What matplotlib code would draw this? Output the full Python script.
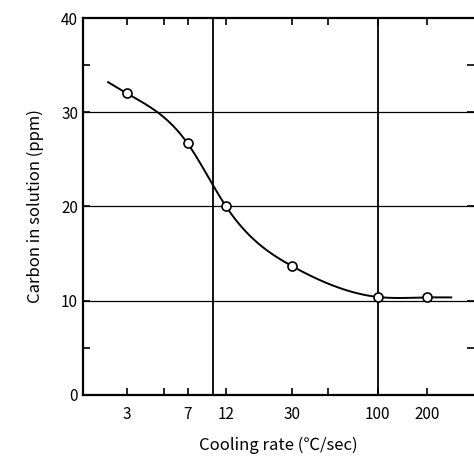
import numpy as np
import matplotlib
matplotlib.use("Agg")
import matplotlib.pyplot as plt

plt.rcParams['font.family'] = ['Noto Sans CJK JP', 'DejaVu Sans']

# measured points
rate = [3, 7, 12, 30, 100, 200]
carbon = [32.0, 26.7, 20.0, 13.7, 10.4, 10.4]

# hand-drawn curve guide
curve_x = [2.3, 3, 7, 12, 30, 100, 200, 280]
curve_y = [33.2, 32.0, 26.7, 20.0, 13.7, 10.4, 10.35, 10.35]

tick_vals = [3, 7, 12, 30, 100, 200]
tick_labels = ['3', '7', '12', '30', '100', '200']
minor_vals = [3, 5, 7, 12, 30, 50, 100, 200]


def spline(xs, ys, n=60):
    # natural cubic spline in log-x space
    x = np.log10(xs)
    y = np.array(ys, dtype=float)
    N = len(x)
    h = np.diff(x)
    A = np.zeros((N, N))
    b = np.zeros(N)
    A[0, 0] = A[-1, -1] = 1
    for i in range(1, N - 1):
        A[i, i - 1] = h[i - 1]
        A[i, i] = 2 * (h[i - 1] + h[i])
        A[i, i + 1] = h[i]
        b[i] = 6 * ((y[i + 1] - y[i]) / h[i] - (y[i] - y[i - 1]) / h[i - 1])
    M = np.linalg.solve(A, b)
    ox, oy = [], []
    for i in range(N - 1):
        t = np.linspace(x[i], x[i + 1], n)
        a = x[i + 1] - t
        c = t - x[i]
        s = (M[i] * a**3 + M[i + 1] * c**3) / (6 * h[i]) \
            + (y[i] / h[i] - M[i] * h[i] / 6) * a + (y[i + 1] / h[i] - M[i + 1] * h[i] / 6) * c
        ox.extend(t)
        oy.extend(s)
    return 10 ** np.array(ox), np.array(oy)


fig = plt.figure(figsize=(4.74, 4.63), dpi=100)
ax = fig.add_axes([0.175, 0.147, 0.825, 0.814])

ax.set_xscale('log')
ax.set_xlim(1.62, 385)
ax.set_ylim(0, 40)

for y in [10, 20, 30]:
    ax.axhline(y, color='black', lw=0.9, zorder=1)
for x in [10, 100]:
    ax.axvline(x, color='black', lw=1.3, zorder=1)

cx, cy = spline(curve_x, curve_y)
ax.plot(cx, cy, color='black', lw=1.4, zorder=2)
ax.plot(rate, carbon, 'o', ms=6.5, mfc='white', mec='black', mew=1.2, zorder=3)

ax.set_xticks(minor_vals)
ax.set_xticklabels(['' if v not in tick_vals else tick_labels[tick_vals.index(v)] for v in minor_vals])
ax.xaxis.set_minor_locator(plt.NullLocator())
ax.set_yticks([0, 10, 20, 30, 40])
ax.set_yticks([5, 35], minor=True)
ax.tick_params(axis='both', which='both', direction='in', length=5, width=1.2,
               top=True, right=True, labelsize=11, colors='black')
ax.tick_params(axis='x', pad=8)

for s in ax.spines.values():
    s.set_linewidth(1.6)
ax.spines['right'].set_visible(False)

ax.set_xlabel('Cooling rate (\u2103/sec)', fontsize=12, labelpad=10)
ax.set_ylabel('Carbon in solution (ppm)', fontsize=12, labelpad=12)

fig.savefig('out.png', dpi=100)
